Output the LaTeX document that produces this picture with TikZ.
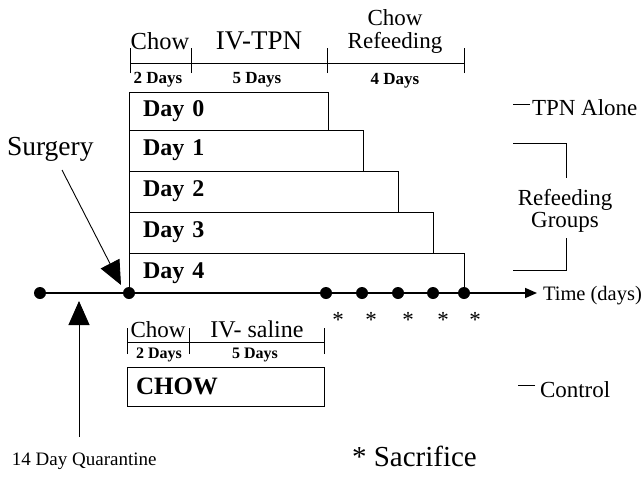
\documentclass[tikz,border=0pt]{standalone}
\usepackage{fontspec}
\setmainfont{Liberation Serif}
\usetikzlibrary{arrows.meta}
\newcommand\fsz[1]{\fontsize{#1}{#1}\selectfont}
\begin{document}
\begin{tikzpicture}[x=1pt,y=-1pt,
  every node/.style={inner sep=0pt,outer sep=0pt},
  thin line/.style={line width=0.9pt},
  daybox/.style={draw,line width=0.9pt,anchor=north west,align=left,inner xsep=14pt,font=\fsz{24}\bfseries},
  dot/.style={circle,fill=black,minimum size=12pt},
  lbl/.style={anchor=base},
  tick/.style={line width=0.9pt},
  bigarrow/.style={line width=0.9pt,-{Triangle[length=24pt,width=21pt]}},
]
\useasboundingbox (0,0) rectangle (642,479);

% ---- top scale
\coordinate (ta) at (130,63);
\coordinate (tb) at (191,63);
\coordinate (tc) at (327,63);
\coordinate (td) at (464,63);
\draw[tick] (ta) -- (td);
\foreach \p in {ta,tb,tc,td} \draw[tick] ([yshift=-10pt]\p) -- ([yshift=15pt]\p);
\node[lbl,font=\fsz{24.5}] (chowA) at (160,49) {Chow};
\node[lbl,font=\fsz{27}] (ivtpn) at (259,49) {IV-TPN};
\node[align=center,font=\fsz{23}] (refeed) at (395,32) {Chow\\[0pt]Refeeding};
\node[lbl,font=\fsz{17}\bfseries] (d2a) at (158,83) {2 Days};
\node[lbl,font=\fsz{17}\bfseries] (d5a) at (257,83) {5 Days};
\node[lbl,font=\fsz{17}\bfseries] (d4a) at (395,84) {4 Days};

% ---- day boxes
\node[daybox,minimum height=38pt,minimum width=199pt,text width=171pt] (b0) at (129,92) {Day 0};
\node[daybox,minimum height=41pt,minimum width=234pt,text width=206pt] (b1) at (129,130) {Day 1};
\node[daybox,minimum height=41pt,minimum width=269pt,text width=241pt] (b2) at (129,171) {Day 2};
\node[daybox,minimum height=41pt,minimum width=304pt,text width=276pt] (b3) at (129,212) {Day 3};
\node[daybox,minimum height=40pt,minimum width=335pt,text width=307pt] (b4) at (129,253) {Day 4};

% ---- timeline
\node[dot] (t0) at (40,293) {};
\node[dot] (t1) at (129,293) {};
\node[dot] (s1) at (326,293) {};
\node[dot] (s2) at (362,293) {};
\node[dot] (s3) at (398,293) {};
\node[dot] (s4) at (433,293) {};
\node[dot] (s5) at (464,293) {};
\coordinate (tend) at (537,293);
\draw[line width=1.2pt] (t0) -- (t1);
\draw[line width=1.6pt] (t1) -- (s1);
\draw[line width=2.2pt] (s1) -- (s5);
\draw[line width=1.6pt,-{Triangle[length=12pt,width=10pt]}] (s5) -- (tend);
\node[anchor=base west,font=\fsz{20.5}] (time) at (543,300) {Time (days)};
\foreach \x/\n in {338/a1,371/a2,408/a3,443/a4,475/a5}
  \node[lbl,font=\fsz{23}] (\n) at (\x,327) {*};

% ---- surgery and quarantine
\node[anchor=base west,font=\fsz{27.5}] (surg) at (7,155) {Surgery};
\coordinate (surgstart) at (62,170);
\coordinate (surgtip) at (121,285);
\draw[bigarrow] (surgstart) -- (surgtip);
\node[anchor=base west,font=\fsz{19}] (quar) at (12,465) {14 Day Quarantine};
\coordinate (qbot) at (79,437);
\coordinate (qtip) at (79,301);
\draw[bigarrow] (qbot) -- (qtip);

% ---- right labels
\node[anchor=base west,font=\fsz{23}] (tpn) at (532,115) {TPN Alone};
\draw[thin line] ([xshift=-2pt,yshift=11pt]tpn.base west) -- ++(-17pt,0);
\coordinate (br1) at (513,143);
\coordinate (br2) at (566,178);
\coordinate (br3) at (566,238);
\coordinate (br4) at (513,270);
\draw[thin line] (br1) -| (br2);
\draw[thin line] (br3) |- (br4);
\node[align=center,font=\fsz{23}] (groups) at (565,211) {Refeeding\\[-1pt]Groups};

% ---- control group
\coordinate (ba) at (127,342);
\coordinate (bb) at (189,342);
\coordinate (bc) at (324,342);
\draw[tick] (ba) -- (bc);
\foreach \p in {ba,bb,bc} \draw[tick] ([yshift=-12pt]\p) -- ([yshift=14pt]\p);
\node[lbl,font=\fsz{23}] (chowB) at (158,337) {Chow};
\node[lbl,font=\fsz{24}] (ivsal) at (257,337) {IV- saline};
\node[lbl,font=\fsz{16}\bfseries] (d2b) at (159,358) {2 Days};
\node[lbl,font=\fsz{16}\bfseries] (d5b) at (255,358) {5 Days};
\node[daybox,font=\fsz{25}\bfseries,inner xsep=9pt,minimum height=39pt,minimum width=197pt,text width=179pt] (chowbox) at (127,367) {CHOW};
\node[anchor=base west,font=\fsz{23}] (ctrl) at (540,397) {Control};
\draw[thin line] ([xshift=-5pt,yshift=12pt]ctrl.base west) -- ++(-17pt,0);

\node[anchor=base west,font=\fsz{29}] (sacr) at (352,466) {* Sacrifice};
\end{tikzpicture}
\end{document}
